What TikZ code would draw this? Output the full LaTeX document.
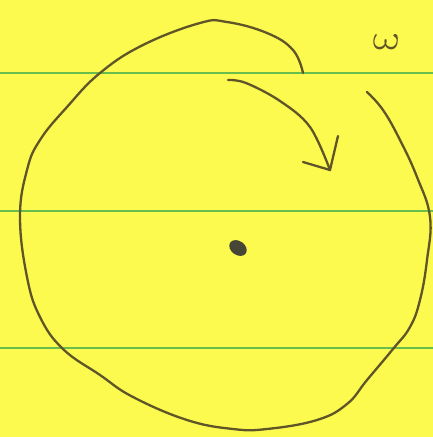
\documentclass[tikz,border=0pt]{standalone}
\begin{document}
\begin{tikzpicture}[x=1pt,y=-1pt,
  ink/.style={draw=inkc,line width=2.3pt,line cap=round,line join=round},
  rule/.style={draw=rulec,line width=2.4pt}]
\definecolor{paper}{RGB}{252,250,78}
\definecolor{rulec}{RGB}{105,190,75}
\definecolor{inkc}{RGB}{95,85,40}
\definecolor{dotc}{RGB}{70,70,55}
\fill[paper] (0,0) rectangle (433,437);
\useasboundingbox (0,0) rectangle (433,437);
% ruled lines
\draw[rule] (0,73) -- (433,73);
\draw[rule] (0,211) -- (433,211);
\draw[rule] (0,348) -- (433,348);
% hand-drawn circle (open at upper right)
\draw[ink] plot[smooth,tension=0.7] coordinates {
 (303,73) (293,50) (267,33) (227,22) (200,23) (143,45) (100,73) (67,107)
 (40,140) (27,170) (20,217) (27,277) (40,317) (63,349) (100,375) (133,397)
 (187,420) (233,429) (267,429) (317,420) (347,404) (367,380) (393,349)
 (410,327) (420,300) (427,260) (430,217) (417,177) (400,140) (383,110) (367,92)};
% rotation arrow
\draw[ink] plot[smooth,tension=0.6] coordinates {
 (228,80) (246,83) (280,101) (310,127) (330,170)};
\coordinate (tip) at (330,170);
\draw[ink] (338,136) -- (tip) -- (303,162);
% centre dot
\fill[dotc,rotate around={-35:(238,248)}] (238,248) ellipse (9.5 and 7);
% omega label
\node[text=inkc,xscale=4.4,yscale=3.4,xslant=-0.2] (omega) at (387,42) {$\omega$};
\end{tikzpicture}
\end{document}
